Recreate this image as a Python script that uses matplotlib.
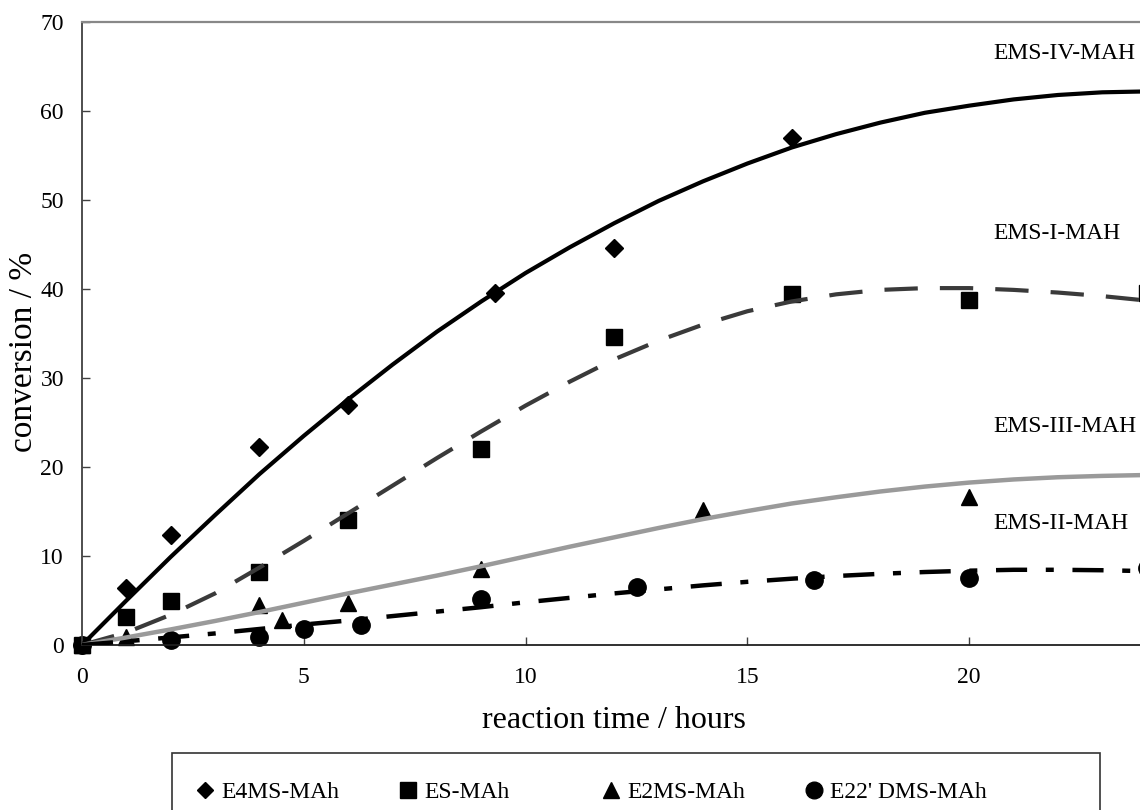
import matplotlib
matplotlib.use("Agg")
import matplotlib.pyplot as plt
from matplotlib.lines import Line2D
from matplotlib.patches import Rectangle

plt.rcParams['font.family'] = ['Liberation Serif', 'DejaVu Serif']

# measured points (reaction time in hours, conversion in %)
e4ms_t = [0, 1, 2, 4, 6, 9.3, 12, 16]
e4ms_c = [0, 6.4, 12.4, 22.2, 27.0, 39.5, 44.6, 57.0]

es_t = [0, 1, 2, 4, 6, 9, 12, 16, 20, 24]
es_c = [0, 3.2, 4.9, 8.2, 14.0, 22.0, 34.6, 39.4, 38.8, 39.6]

e2ms_t = [0, 1, 4, 4.5, 6, 9, 14, 20]
e2ms_c = [0, 0.9, 4.5, 2.8, 4.7, 8.5, 15.2, 16.6]

e22_t = [0, 2, 4, 5, 6.3, 9, 12.5, 16.5, 20, 24]
e22_c = [0, 0.6, 0.95, 1.75, 2.25, 5.2, 6.5, 7.3, 7.5, 8.6]

# trend curves, every hour
curve_t = list(range(25))
fit_iv = [0, 5.0, 9.9, 14.6, 19.2, 23.5, 27.6, 31.5, 35.2, 38.6, 41.8, 44.7, 47.4,
          49.9, 52.1, 54.1, 55.9, 57.4, 58.7, 59.8, 60.6, 61.3, 61.8, 62.1, 62.2]
fit_i = [0, 1.4, 3.4, 5.8, 8.7, 11.7, 14.8, 17.9, 21.0, 24.0, 26.9, 29.6, 32.1,
         34.2, 36.0, 37.5, 38.6, 39.4, 39.9, 40.1, 40.1, 39.9, 39.6, 39.2, 38.7]
fit_iii = [0, 0.85, 1.75, 2.7, 3.7, 4.75, 5.8, 6.8, 7.8, 8.85, 9.95, 11.05, 12.1,
           13.15, 14.15, 15.05, 15.9, 16.6, 17.25, 17.8, 18.25, 18.6, 18.85, 19.0, 19.1]
fit_ii = [0, 0.42, 0.85, 1.3, 1.8, 2.3, 2.75, 3.25, 3.75, 4.25, 4.8, 5.3, 5.8,
          6.25, 6.7, 7.1, 7.45, 7.75, 8.0, 8.2, 8.35, 8.45, 8.45, 8.4, 8.3]

legend_labels = ["E4MS-MAh", "ES-MAh", "E2MS-MAh", "E22' DMS-MAh"]
curve_labels = ["EMS-IV-MAH", "EMS-I-MAH", "EMS-III-MAH", "EMS-II-MAH"]

fig = plt.figure(figsize=(11.4, 8.1), dpi=100)
ax = fig.add_axes([82 / 1140, 1 - 645 / 810, 25 * 44.36 / 1140, 623 / 810])

# trend lines
ax.plot(curve_t, fit_iv, color='black', lw=3.0, zorder=3)
ax.plot(curve_t, fit_i, color='#3a3a3a', lw=3.0, dashes=(8, 5.3), zorder=3)
ax.plot(curve_t, fit_iii, color='#9a9a9a', lw=3.2, zorder=3)
ax.plot(curve_t, fit_ii, color='black', lw=3.2, dashes=(7, 4.2, 1.8, 4.2), zorder=3)

# data points
mk = dict(color='black', linestyle='none', clip_on=False, zorder=2)
ax.plot(e4ms_t, e4ms_c, marker='D', ms=8.7, **mk)
ax.plot(es_t, es_c, marker='s', ms=11.5, **mk)
ax.plot(e2ms_t, e2ms_c, marker='^', ms=12, **mk)
ax.plot(e22_t, e22_c, marker='o', ms=12.5, **mk)

ax.set_xlim(0, 25)
ax.set_ylim(0, 70)
ax.set_xticks([0, 5, 10, 15, 20])
ax.set_yticks(range(0, 71, 10))
ax.tick_params(direction='in', length=6, width=1, color='#404040', labelsize=17)
ax.tick_params(axis='x', pad=16)
ax.tick_params(axis='y', pad=13)

ax.spines['left'].set_color('#404040')
ax.spines['left'].set_linewidth(1.3)
ax.spines['bottom'].set_color('#202020')
ax.spines['bottom'].set_linewidth(1.3)
ax.spines['top'].set_color('#888888')
ax.spines['top'].set_linewidth(1.6)
ax.spines['right'].set_visible(False)

ax.set_xlabel('reaction time / hours', fontsize=23)
ax.xaxis.set_label_coords(532 / (25 * 44.36), -(720 - 645) / 623)
ax.xaxis.label.set_va('center')
ax.set_ylabel('conversion / %', fontsize=24)
ax.yaxis.set_label_coords(-(82 - 24) / (25 * 44.36), (645 - 352) / 623)
ax.yaxis.label.set_va('center')

# curve names
for lab, yy in zip(curve_labels, [66.5, 46.2, 24.5, 13.7]):
    ax.text(20.54, yy, lab, fontsize=17, va='center', ha='left')

# legend: Excel style, entries on equal spacing
handles = [
    Line2D([], [], color='black', ls='none', marker='D', ms=8),
    Line2D([], [], color='black', ls='none', marker='s', ms=11),
    Line2D([], [], color='black', ls='none', marker='^', ms=11.5),
    Line2D([], [], color='black', ls='none', marker='o', ms=12),
]
for i, (h, lab) in enumerate(zip(handles, legend_labels)):
    fig.legend([h], [lab], loc='center left',
               bbox_to_anchor=((193 + 203 * i) / 1140, 1 - 792 / 810), frameon=False,
               fontsize=17, handlelength=1.0, handletextpad=0.2,
               borderpad=0, borderaxespad=0)
fig.add_artist(Rectangle((172 / 1140, -0.05), (1100 - 172) / 1140, 0.05 + 1 - 753 / 810,
                         transform=fig.transFigure, fill=False,
                         edgecolor='#333333', lw=1.2))

fig.savefig('out.png', dpi=100)
